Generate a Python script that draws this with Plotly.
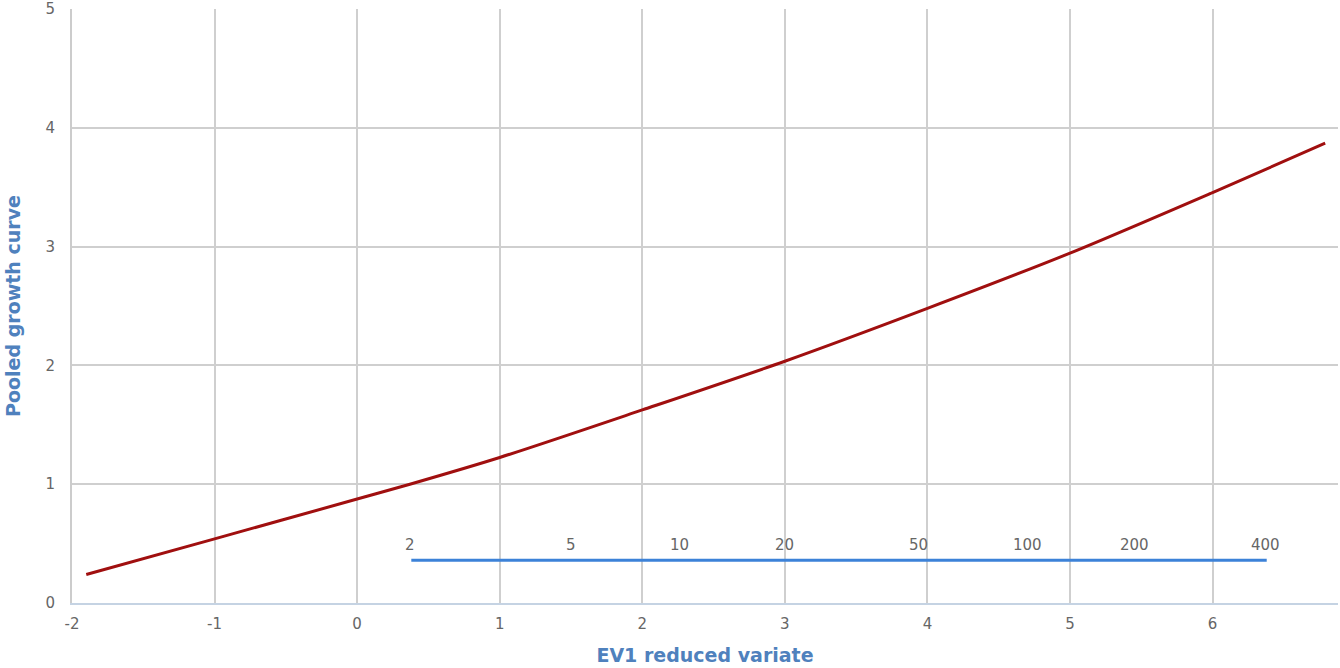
import plotly.graph_objects as go

# Growth curve (EV1 reduced variate vs pooled growth factor)
curve_x = [-1.9, -1.0, 0.0, 0.37, 1.0, 2.0, 3.0, 4.0, 5.0, 6.0, 6.79]
curve_y = [0.24, 0.54, 0.875, 1.0, 1.225, 1.625, 2.035, 2.48, 2.945, 3.455, 3.87]

# Return period scale
rp_labels = ["2", "5", "10", "20", "50", "100", "200", "400"]
rp_x = [0.37, 1.50, 2.26, 3.00, 3.94, 4.70, 5.45, 6.37]
rp_line_x = [0.38, 6.38]
rp_line_y = [0.36, 0.36]
rp_label_y = 0.49

x_ticks = [-2, -1, 0, 1, 2, 3, 4, 5, 6]
x_ticktext = ["-2", "-1", "0", "1", "2", "3", "4", "5", "6"]
y_ticks = [0, 1, 2, 3, 4, 5]

fig = go.Figure()
fig.add_trace(go.Scatter(x=rp_line_x, y=rp_line_y, mode="lines",
                         line=dict(color="#3C82D8", width=3), hoverinfo="skip"))
fig.add_trace(go.Scatter(x=curve_x, y=curve_y, mode="lines",
                         line=dict(color="#A00F0F", width=3, shape="spline", smoothing=0.8)))

for lab, xv in zip(rp_labels, rp_x):
    fig.add_annotation(x=xv, y=rp_label_y, text=lab, showarrow=False,
                       font=dict(family="DejaVu Sans", size=15, color="#666666"),
                       xanchor="center", yanchor="middle")

fig.update_layout(
    width=1340, height=668,
    margin=dict(l=72, r=2, t=9, b=65),
    plot_bgcolor="white", paper_bgcolor="white",
    showlegend=False,
    font=dict(family="DejaVu Sans", size=15, color="#666666"),
    xaxis=dict(range=[-2, 6.88], tickvals=x_ticks, ticktext=x_ticktext, showgrid=True,
               gridcolor="#CFCFCF", gridwidth=1.5, zeroline=False, showline=True,
               linecolor="#C5D3E3", linewidth=2, ticks="", ticklabelstandoff=6,
               tickfont=dict(size=15, color="#666666"),
               title=dict(text="<b>EV1 reduced variate</b>", standoff=17,
                          font=dict(size=19, color="#4F81BD"))),
    yaxis=dict(range=[0, 5], tickvals=y_ticks, showgrid=True, gridcolor="#CFCFCF",
               gridwidth=1.5, zeroline=False, showline=True, linecolor="#CCCCCC", linewidth=2,
               ticks="", ticklabelstandoff=12, ticklabeloverflow="allow", automargin=False,
               tickfont=dict(size=15, color="#666666"),
               title=dict(text="<b>Pooled growth curve</b>", standoff=20,
                          font=dict(size=19, color="#4F81BD"))),
)

# remove the default 8px page margin so the figure fills the window
fig.write_html("out.html", config={"displayModeBar": False},
               post_script="document.body.style.margin='0px';")
